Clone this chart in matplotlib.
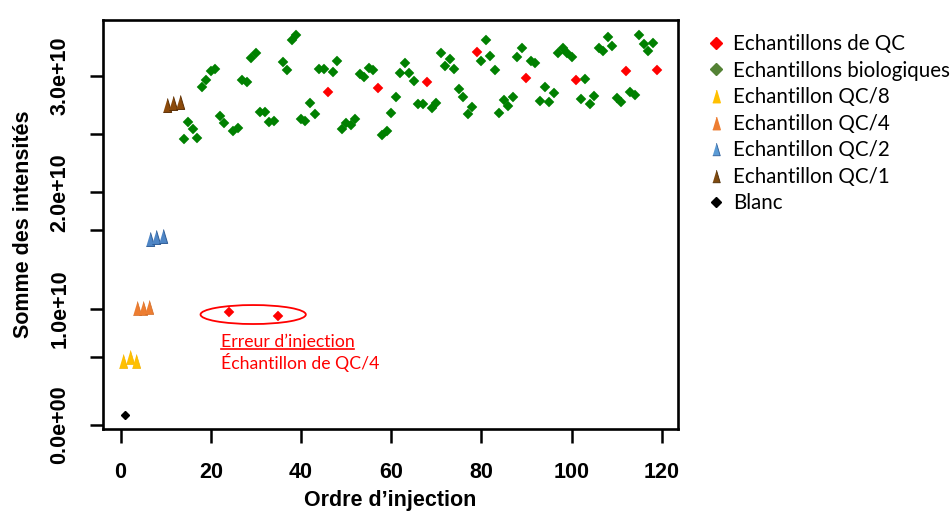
import numpy as np
import matplotlib.pyplot as plt
from matplotlib.lines import Line2D
from matplotlib.patches import Ellipse

# intensities are given in units of 1e10
blank_x = [1]
blank_y = [0.086]

qc8_x = [0.6, 2.1, 3.4]
qc8_y = [0.55, 0.585, 0.55]
qc4_x = [3.6, 4.9, 6.2]
qc4_y = [1.006, 1.006, 1.017]
qc2_x = [6.5, 7.9, 9.3]
qc2_y = [1.597, 1.614, 1.625]
qc1_x = [10.2, 11.7, 13.2]
qc1_y = [2.75, 2.766, 2.78]

qc_x = [46, 57, 68, 79, 90, 101, 112, 119]
qc_y = [2.866, 2.895, 2.952, 3.205, 2.981, 2.966, 3.046, 3.052]
err_x = [24, 35]
err_y = [0.969, 0.937]

bio_x = [14, 15, 16, 17, 18, 19, 20, 21, 22, 23,
         25, 26, 27, 28, 29, 30, 31, 32, 33, 34,
         36, 37, 38, 39, 40, 41, 42, 43, 44, 45,
         47, 48, 49, 50, 51, 52, 53, 54, 55, 56,
         58, 59, 60, 61, 62, 63, 64, 65, 66, 67,
         69, 70, 71, 72, 73, 74, 75, 76, 77, 78,
         80, 81, 82, 83, 84, 85, 86, 87, 88, 89,
         91, 92, 93, 94, 95, 96, 97, 98, 99, 100,
         102, 103, 104, 105, 106, 107, 108, 109, 110, 111,
         113, 114, 115, 116, 117, 118]
bio_y = [2.455, 2.601, 2.547, 2.470, 2.906, 2.962, 3.041, 3.064, 2.657, 2.597,
         2.531, 2.551, 2.964, 2.947, 3.156, 3.201, 2.687, 2.694, 2.608, 2.618,
         3.121, 3.050, 3.308, 3.352, 2.634, 2.617, 2.766, 2.672, 3.061, 3.061,
         3.038, 3.130, 2.545, 2.594, 2.580, 2.631, 3.015, 2.995, 3.067, 3.052,
         2.494, 2.531, 2.685, 2.823, 3.029, 3.115, 3.024, 2.960, 2.758, 2.758,
         2.723, 2.766, 3.196, 3.087, 3.144, 3.058, 2.886, 2.818, 2.672, 2.732,
         3.132, 3.310, 3.173, 3.052, 2.680, 2.794, 2.743, 2.823, 3.162, 3.239,
         3.132, 3.110, 2.786, 2.909, 2.780, 2.857, 3.196, 3.239, 3.201, 3.162,
         2.800, 2.975, 2.758, 2.829, 3.239, 3.218, 3.339, 3.259, 2.809, 2.780,
         2.866, 2.838, 3.353, 3.276, 3.216, 3.287]

ytick_vals = [0, 1, 2, 3]
ytick_labels = ['0.0e+00', '1.0e+10', '2.0e+10', '3.0e+10']
yminor_vals = [0.585, 1.676, 2.501]
xtick_vals = [0, 20, 40, 60, 80, 100, 120]

legend_labels = ['Echantillons de QC', 'Echantillons biologiques', 'Echantillon QC/8',
                 'Echantillon QC/4', 'Echantillon QC/2', 'Echantillon QC/1', 'Blanc']

E10 = 1e10
tri = [(-0.6, -1), (0.6, -1), (0, 1)]

fig = plt.figure(figsize=(9.52, 5.14), dpi=100)
ax = fig.add_axes([103 / 952, 1 - 429 / 514, 575 / 952, 409 / 514])

# points
ax.plot(bio_x, np.array(bio_y) * E10, 'D', color='#008000', ms=5, mew=0.3, mec='#008000', ls='none')
ax.plot(qc_x, np.array(qc_y) * E10, 'D', color='#ff0000', ms=5, mew=0.3, mec='#ff0000', ls='none')
ax.plot(err_x, np.array(err_y) * E10, 'D', color='#ff0000', ms=5, mew=0.3, mec='#ff0000', ls='none')
ax.plot(blank_x, np.array(blank_y) * E10, 'D', color='black', ms=4.2, ls='none')
ax.plot(qc8_x, np.array(qc8_y) * E10, marker=tri, color='#ffc000', ms=10, mew=0.5, mec='#f0b000', ls='none')
ax.plot(qc4_x, np.array(qc4_y) * E10, marker=tri, color='#ed7d31', ms=10, mew=0.5, mec='#d06a25', ls='none')
ax.plot(qc2_x, np.array(qc2_y) * E10, marker=tri, color='#4f86c6', ms=10, mew=0.7, mec='#2e5c96', ls='none')
ax.plot(qc1_x, np.array(qc1_y) * E10, marker=tri, color='#8b4a0b', ms=10, mew=0.7, mec='#5a2e05', ls='none')

ax.set_xlim(-3.9, 123.6)
ax.set_ylim(-0.034 * E10, 3.482 * E10)

for s in ax.spines.values():
    s.set_linewidth(1.9)

ax.set_xticks(xtick_vals)
ax.set_xticklabels([str(v) for v in xtick_vals], fontsize=15.5, fontweight='bold', family='Liberation Sans')
ax.set_yticks([v * E10 for v in ytick_vals])
ax.set_yticklabels(ytick_labels, fontsize=15.5, fontweight='bold', family='Liberation Sans',
                   rotation=90, va='center')
ax.set_yticks([v * E10 for v in yminor_vals], minor=True)
ax.tick_params(axis='both', which='both', direction='out', width=1.8)
ax.tick_params(axis='x', length=10, pad=14)
ax.tick_params(axis='y', which='both', length=9.5, pad=14)

ax.set_xlabel('Ordre d’injection', fontsize=15.5, fontweight='bold', family='Liberation Sans', labelpad=5)
ax.set_ylabel('Somme des intensités', fontsize=15.5, fontweight='bold', family='Liberation Sans', labelpad=11)

# annotation around the injection errors
ax.add_patch(Ellipse((29.4, 0.950 * E10), 23.35, 0.163 * E10, fill=False, ec='#ff0000', lw=1.3))
t1 = ax.text(22.2, 0.716 * E10, 'Erreur d’injection', color='#ff0000', fontsize=12.7,
             family='Lato', va='center', ha='left')
ax.text(22.2, 0.536 * E10, 'Échantillon de QC/4', color='#ff0000', fontsize=12.7,
        family='Lato', va='center', ha='left')

fig.canvas.draw()
bb = t1.get_window_extent(fig.canvas.get_renderer())
uy = bb.y0 + 1
fig.add_artist(Line2D([bb.x0 / 952, bb.x1 / 952], [uy / 514, uy / 514],
                      color='#ff0000', lw=1.2))

# legend
handles = [
    Line2D([], [], marker='D', color='#ff0000', ms=6, ls='none'),
    Line2D([], [], marker='D', color='#548235', ms=6, ls='none'),
    Line2D([], [], marker=tri, color='#ffc000', ms=9, ls='none'),
    Line2D([], [], marker=tri, color='#ed7d31', ms=9, ls='none'),
    Line2D([], [], marker=tri, color='#5b9bd5', mec='#2e5c96', mew=0.6, ms=9, ls='none'),
    Line2D([], [], marker=tri, color='#7f4a10', mec='#4a2a05', mew=0.6, ms=9, ls='none'),
    Line2D([], [], marker='D', color='black', ms=5.5, ls='none'),
]
fig.legend(handles, legend_labels, loc='upper left', bbox_to_anchor=(706 / 952, 1 - 34 / 514),
           frameon=False, prop={'family': 'Lato', 'size': 14.8}, handlelength=1.0,
           handletextpad=0.3, labelspacing=0.32, borderpad=0, borderaxespad=0)

fig.savefig('out.png', dpi=100)
